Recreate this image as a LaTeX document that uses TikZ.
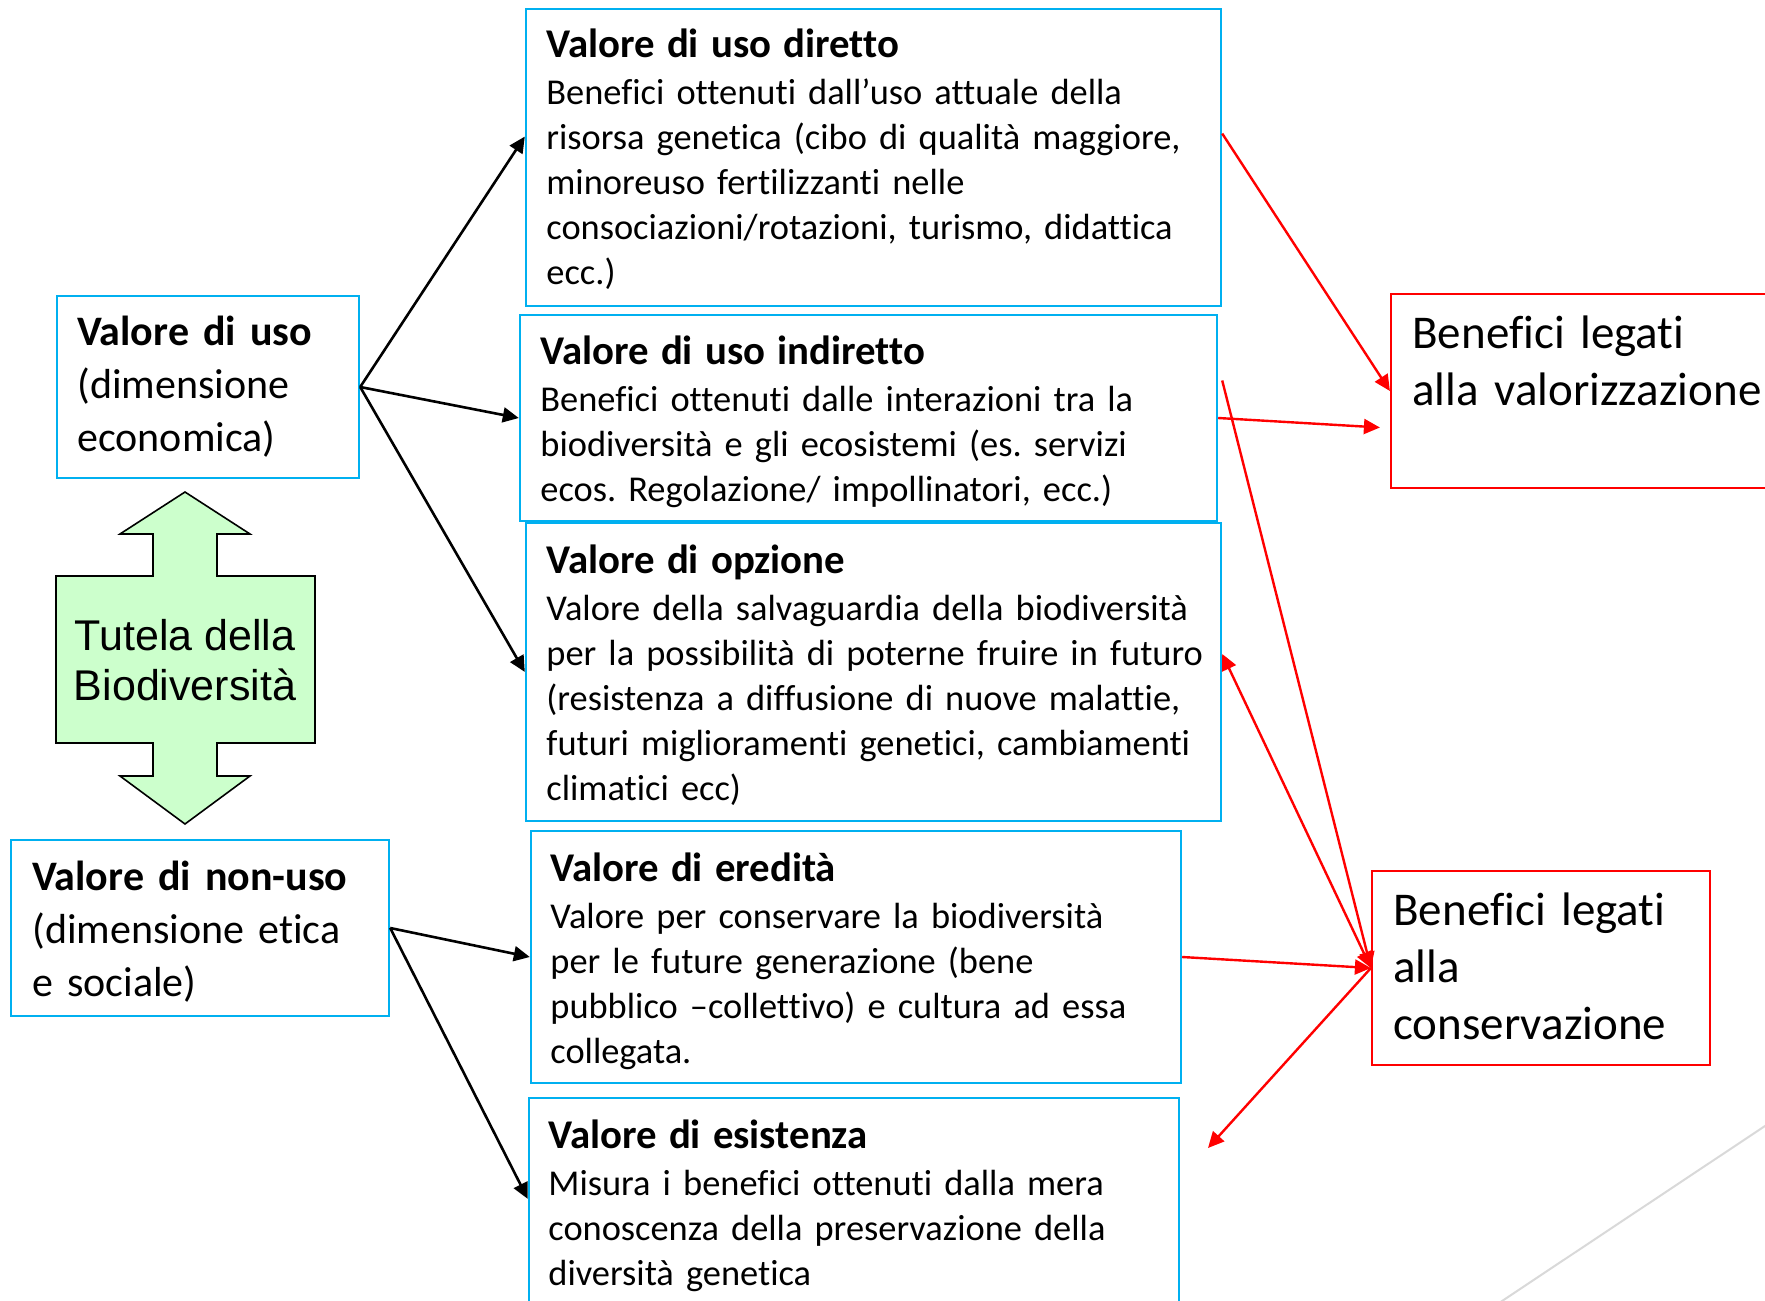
\documentclass[tikz,border=0pt]{standalone}
\usepackage{fontspec}
\setmainfont[Ligatures=NoCommon]{Carlito}
\newfontfamily\arialfont{Liberation Sans}
\usetikzlibrary{positioning,calc,fit,arrows.meta}
\definecolor{boxblu}{HTML}{00B0F0}
\definecolor{verdino}{HTML}{CCFFCC}
\definecolor{grigio}{HTML}{D9D9D9}
\frenchspacing
\tikzset{
  valbox/.style={draw=boxblu,line width=1.2pt,inner sep=0pt},
  benbox/.style={draw=red,line width=1.1pt,inner sep=0pt},
  txt/.style={inner sep=0pt,anchor=base west,align=left,text width=360pt,
    font=\fontsize{18.2}{22.5}\selectfont},
  lefttxt/.style={txt,text width=180pt,font=\fontsize{21}{26.5}\selectfont},
  bentxt/.style={txt,text width=180pt,font=\fontsize{23.5}{28.5}\selectfont},
  blk/.style={-{Triangle[length=8pt,width=7.5pt]},line width=1.3pt},
  rosso/.style={red,-{Triangle[length=8pt,width=7.5pt]},line width=1.2pt}
}

\begin{document}
\begin{tikzpicture}[x=0.5pt,y=-0.5pt]
  \useasboundingbox (0,0) rectangle (1765,1300);

  % value boxes
  \node[valbox,fit={(526,9) (1221,306)}] (diretto) {};
  \node[valbox,fit={(520,315) (1217,521)}] (indiretto) {};
  \node[valbox,fit={(526,523) (1221,821)}] (opzione) {};
  \node[valbox,fit={(531,831) (1181,1083)}] (eredita) {};
  \node[valbox,fit={(529,1098) (1179,1320)}] (esistenza) {};
  \node[valbox,fit={(57,296) (359,478)}] (uso) {};
  \node[valbox,fit={(11,840) (389,1016)}] (nonuso) {};
  \node[benbox,fit={(1391,294) (1790,488)}] (valoriz) {};
  \node[benbox,fit={(1372,871) (1710,1065)}] (conserv) {};

  \node[txt] (diretto-t) at (546,58) {{\bfseries\fontsize{20.4}{22.5}\selectfont Valore di uso diretto}\\[1pt]
    Benefici ottenuti dall’uso attuale della\\
    risorsa genetica (cibo di qualità maggiore,\\
    minoreuso fertilizzanti nelle\\
    consociazioni/rotazioni, turismo, didattica\\
    ecc.)};
  \node[txt] (indiretto-t) at (540,364) {{\bfseries\fontsize{20.4}{22.5}\selectfont Valore di uso indiretto}\\[1pt]
    Benefici ottenuti dalle interazioni tra la\\
    biodiversità e gli ecosistemi (es. servizi\\
    ecos. Regolazione/ impollinatori, ecc.)};
  \node[txt] (opzione-t) at (546,573) {{\bfseries\fontsize{20.4}{22.5}\selectfont Valore di opzione}\\[1pt]
    Valore della salvaguardia della biodiversità\\
    per la possibilità di poterne fruire in futuro\\
    (resistenza a diffusione di nuove malattie,\\
    futuri miglioramenti genetici, cambiamenti\\
    climatici ecc)};
  \node[txt] (eredita-t) at (550,881) {{\bfseries\fontsize{20.4}{22.5}\selectfont Valore di eredità}\\[1pt]
    Valore per conservare la biodiversità\\
    per le future generazione (bene\\
    pubblico –collettivo) e cultura ad essa\\
    collegata.};
  \node[txt] (esistenza-t) at (548,1148) {{\bfseries\fontsize{20.4}{22.5}\selectfont Valore di esistenza}\\[1pt]
    Misura i benefici ottenuti dalla mera\\
    conoscenza della preservazione della\\
    diversità genetica};
  \node[lefttxt] (uso-t) at (77,345) {\textbf{Valore di uso}\\
    (dimensione\\ economica)};
  \node[lefttxt] (nonuso-t) at (32,890) {\textbf{Valore di non-uso}\\
    (dimensione etica\\ e sociale)};
  \node[bentxt] (valoriz-t) at (1412,348) {Benefici legati\\ alla valorizzazione};
  \node[bentxt] (conserv-t) at (1393,925) {Benefici legati\\ alla\\ conservazione};

  % double arrow
  \draw[fill=verdino,line width=0.8pt] (185,492) -- (250,534) -- (217,534)
    -- (217,576) -- (315,576) -- (315,743) -- (217,743) -- (217,776)
    -- (250,776) -- (185,824) -- (120,776) -- (153,776) -- (153,743)
    -- (56,743) -- (56,576) -- (153,576) -- (153,534) -- (120,534) -- cycle;
  \node[align=center,inner sep=0pt,font=\arialfont\fontsize{21.5}{25}\selectfont]
    (tutela) at (185,660) {Tutela della\\ Biodiversità};

  \draw[blk] (uso.east) -- ($(diretto.north west)!.43!(diretto.south west)$);
  \draw[blk] (uso.east) -- (indiretto.west);
  \draw[blk] (uso.east) -- (opzione.west);
  \draw[blk] (nonuso.east) -- (eredita.west);
  \draw[blk] (nonuso.east) -- ($(esistenza.north west)!.455!(esistenza.south west)$);

  \draw[rosso] ($(diretto.north east)!.42!(diretto.south east)$) -- (valoriz.west);
  \draw[rosso] (indiretto.east)
    -- ($(valoriz.north west)!.686!(valoriz.south west)+(-10,0)$);
  \draw[rosso] ($(indiretto.north east)!.32!(indiretto.south east)+(4,0)$)
    -- (conserv.west);
  \draw[rosso,{Triangle[length=8pt,width=7.5pt]}-{Triangle[length=8pt,width=7.5pt]}]
    ($(opzione.north east)!.44!(opzione.south east)$) -- (conserv.west);
  \draw[rosso] (eredita.east) -- (conserv.west);
  \coordinate (libero) at (1208,1148);
  \draw[rosso] (conserv.west) -- (libero);

  \draw[grigio,line width=1pt] (1490,1309) -- (1780,1116);
\end{tikzpicture}
\end{document}
